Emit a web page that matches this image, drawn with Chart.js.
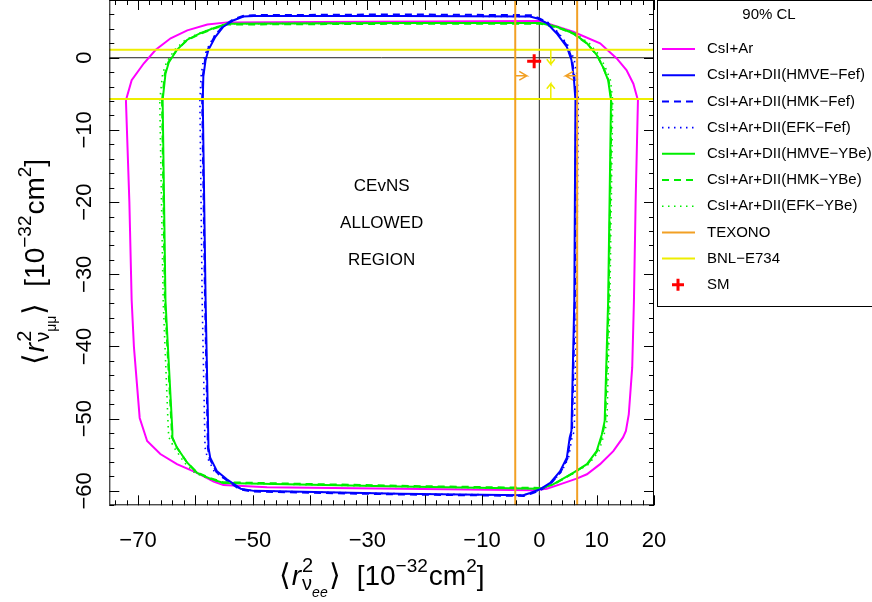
<!DOCTYPE html>
<html>
<head>
<meta charset="utf-8">
<script src="https://cdn.jsdelivr.net/npm/chart.js@4.4.0/dist/chart.umd.min.js"></script>
<style>
  body { margin: 0; background: #fff; }
</style>
</head>
<body>
<canvas id="myChart" width="872" height="602"></canvas>
<script>
// axis ranges and tick labels
var xMin = -75, xMax = 20, yMin = -62, yMax = 8;
var xTickLabels = [-70, -50, -30, -10, 0, 10, 20];
var yTickLabels = [0, -10, -20, -30, -40, -50, -60];

// CsI+Ar contour (x = <r2 nu_ee>, y = <r2 nu_mumu>)
var csiArX = [-72.1, -71.1, -69.0, -66.9, -64.3, -61.4, -57.9, -54.5, -30.0, 0.1, 2.4, 5.9, 10.6, 13.5, 15.2, 16.4, 17.2, 16.8, 16.5, 16.2, 15.6, 15.1, 14.6, 12.9, 10.6, 8.3, 6.5, 3.6, 1.3, -1.0, -24.3, -47.5, -55.1, -56.8, -59.7, -63.2, -66.1, -68.4, -69.7, -70.7, -71.1, -71.5, -72.1];
var csiArY = [-5.9, -3.1, -0.8, 1.1, 2.7, 3.8, 4.6, 4.9, 5.0, 5.1, 4.5, 3.6, 2.0, -0.1, -1.7, -3.6, -5.9, -19.8, -33.7, -42.9, -49.4, -51.7, -52.6, -54.5, -56.3, -57.7, -58.3, -59.1, -59.7, -59.9, -59.7, -59.5, -59.2, -58.7, -57.5, -56.3, -54.9, -53.1, -49.9, -40.1, -33.6, -20.0, -5.9];

// CsI+Ar+DII, Fef quenching
var fefHmveX = [-58.7, -58.6, -58.2, -57.7, -56.5, -55.1, -53.3, -51.6, -49.8, -24.3, -1.6, -0.2, 1.3, 3.0, 4.8, 5.6, 6.0, 6.3, 6.1, 5.6, 5.3, 4.8, 3.6, 1.9, 0.1, -1.6, -2.8, -24.3, -49.8, -52.1, -54.5, -56.2, -57.4, -57.7, -58.2, -58.7];
var fefHmveY = [-5.9, -2.6, -0.3, 1.1, 2.9, 4.3, 5.2, 5.7, 5.8, 5.8, 5.7, 5.4, 4.8, 3.4, 1.5, -0.3, -2.6, -5.9, -33.7, -51.7, -52.6, -55.4, -57.3, -58.9, -59.8, -60.3, -60.6, -60.4, -60.0, -59.7, -58.4, -57.3, -55.4, -54.0, -33.7, -5.9];
var fefHmkX = [-58.8, -58.7, -58.3, -57.8, -56.6, -55.2, -53.4, -51.7, -49.9, -24.3, -1.5, -0.1, 1.4, 3.1, 4.9, 5.7, 6.1, 6.4, 6.2, 5.7, 5.4, 4.9, 3.7, 2.0, 0.2, -1.5, -2.7, -24.3, -49.9, -52.2, -54.6, -56.3, -57.5, -57.8, -58.3, -58.8];
var fefHmkY = [-5.9, -2.6, -0.3, 1.2, 3.0, 4.4, 5.3, 5.8, 5.9, 6.0, 5.9, 5.5, 4.9, 3.5, 1.6, -0.2, -2.5, -5.9, -33.7, -51.7, -52.7, -55.5, -57.4, -59.0, -59.9, -60.4, -60.7, -60.5, -60.1, -59.8, -58.5, -57.4, -55.5, -54.1, -33.7, -5.9];
var fefEfkX = [-59.2, -59.0, -58.6, -58.0, -56.8, -55.3, -53.5, -51.7, -49.8, -24.3, -1.4, 0.1, 1.7, 3.4, 5.2, 6.1, 6.6, 6.8, 6.5, 6.1, 5.7, 5.1, 3.9, 2.1, 0.2, -1.5, -2.8, -24.3, -49.8, -52.2, -54.8, -56.7, -57.9, -58.3, -58.8, -59.2];
var fefEfkY = [-5.9, -2.6, -0.3, 1.1, 2.9, 4.3, 5.2, 5.7, 5.8, 5.8, 5.7, 5.4, 4.8, 3.4, 1.5, -0.3, -2.6, -5.9, -33.7, -51.7, -52.6, -55.4, -57.3, -58.9, -59.8, -60.3, -60.6, -60.4, -60.0, -59.7, -58.4, -57.3, -55.4, -54.0, -33.7, -5.9];

// CsI+Ar+DII, YBe quenching
var ybeHmveX = [-65.7, -65.2, -64.6, -63.2, -61.4, -59.1, -56.8, -54.5, -24.3, 0.1, 3.0, 5.9, 8.3, 10.0, 11.1, 12.0, 12.5, 12.0, 11.4, 10.9, 10.0, 8.3, 5.9, 2.4, 0.1, -24.3, -55.1, -57.4, -59.7, -61.4, -63.2, -64.0, -64.0, -65.2, -65.7];
var ybeHmveY = [-5.9, -2.2, -0.6, 1.1, 2.5, 3.4, 4.1, 4.7, 4.8, 4.8, 4.3, 3.4, 2.0, 0.4, -1.3, -3.1, -5.9, -33.7, -50.3, -52.2, -54.5, -56.3, -57.5, -59.1, -59.7, -59.4, -58.9, -58.3, -57.5, -56.1, -54.0, -52.6, -51.7, -33.7, -5.9];
var ybeHmkX = [-65.8, -65.3, -64.7, -63.3, -61.5, -59.2, -56.9, -54.6, -24.3, 0.2, 3.1, 6.0, 8.4, 10.1, 11.2, 12.1, 12.6, 12.1, 11.5, 11.0, 10.1, 8.4, 6.0, 2.5, 0.2, -24.3, -55.2, -57.5, -59.8, -61.5, -63.3, -64.1, -64.1, -65.3, -65.8];
var ybeHmkY = [-5.9, -2.2, -0.6, 1.0, 2.4, 3.3, 4.0, 4.6, 4.7, 4.7, 4.2, 3.3, 1.9, 0.3, -1.4, -3.2, -5.9, -33.7, -50.3, -52.2, -54.5, -56.3, -57.5, -59.1, -59.6, -59.3, -58.8, -58.2, -57.4, -56.0, -53.9, -52.5, -51.7, -33.7, -5.9];
var ybeEfkX = [-66.2, -65.7, -65.0, -63.6, -61.7, -59.3, -57.0, -54.6, -24.3, 0.3, 3.3, 6.2, 8.7, 10.4, 11.5, 12.4, 12.8, 12.3, 11.8, 11.3, 10.4, 8.6, 6.1, 2.5, 0.2, -24.3, -55.3, -57.7, -60.1, -61.9, -63.7, -64.6, -64.7, -65.6, -66.2];
var ybeEfkY = [-5.9, -2.2, -0.6, 1.1, 2.5, 3.4, 4.1, 4.7, 4.8, 4.8, 4.3, 3.4, 2.0, 0.4, -1.3, -3.1, -5.9, -33.7, -50.3, -52.2, -54.5, -56.3, -57.5, -59.1, -59.7, -59.4, -58.9, -58.3, -57.5, -56.1, -54.0, -52.6, -51.7, -33.7, -5.9];

// other experiments and SM
var texonoLimits = [-4.2, 6.6];
var bnlLimits = [1.1, -5.7];
var smPoint = [-0.9, -0.5];

// limit arrows: [base, tip, wing, NaN, tip, wing]
var texonoArrowLX = [-4.2, -2.2, -3.5, NaN, -2.2, -3.5];
var texonoArrowLY = [-2.5, -2.5, -1.9, NaN, -2.5, -3.1];
var texonoArrowRX = [6.6, 4.6, 5.9, NaN, 4.6, 5.9];
var texonoArrowRY = [-2.5, -2.5, -1.9, NaN, -2.5, -3.1];
var bnlArrowTX = [2.0, 2.0, 1.3, NaN, 2.0, 2.7];
var bnlArrowTY = [1.1, -0.9, -0.2, NaN, -0.9, -0.2];
var bnlArrowBX = [2.0, 2.0, 1.3, NaN, 2.0, 2.7];
var bnlArrowBY = [-5.7, -3.6, -4.3, NaN, -3.6, -4.3];

var regionText = ['CEvNS', 'ALLOWED', 'REGION'];
var regionTextX = -27.5;
var regionTextY = [-17.8, -23.0, -28.1];

var fam = "'Liberation Sans', Arial, Helvetica, sans-serif";
Chart.defaults.font.family = fam;

function pts(xs, ys) {
    return xs.map(function (x, i) { return { x: x, y: ys[i] }; });
}

var MAGENTA = '#ff00ff', BLUE = '#0000ff', GREEN = '#00ee00', ORANGE = '#f2a024', YELLOW = '#eeee00';

function contour(label, xs, ys, color, style, order) {
    var ds = {
        label: label, data: pts(xs, ys), borderColor: color, backgroundColor: color,
        borderWidth: 2, pointRadius: 0, showLine: true, tension: 0, fill: false,
        order: order, inLegend: true
    };
    if (style === 'dash') ds.borderDash = [7, 5];
    if (style === 'dot') { ds.borderDash = [1.5, 4.5]; ds.borderWidth = 1.6; }
    return ds;
}
function plain(label, xs, ys, color, width, order) {
    return {
        label: label, data: pts(xs, ys), borderColor: color, borderWidth: width,
        pointRadius: 0, showLine: true, tension: 0, fill: false, spanGaps: false, order: order
    };
}

var datasets = [
    contour('CsI+Ar', csiArX, csiArY, MAGENTA, 'solid', 8),
    contour('CsI+Ar+DII(HMVE\u2212Fef)', fefHmveX, fefHmveY, BLUE, 'solid', 5),
    contour('CsI+Ar+DII(HMK\u2212Fef)', fefHmkX, fefHmkY, BLUE, 'dash', 6),
    contour('CsI+Ar+DII(EFK\u2212Fef)', fefEfkX, fefEfkY, BLUE, 'dot', 7),
    contour('CsI+Ar+DII(HMVE\u2212YBe)', ybeHmveX, ybeHmveY, GREEN, 'solid', 5),
    contour('CsI+Ar+DII(HMK\u2212YBe)', ybeHmkX, ybeHmkY, GREEN, 'dash', 6),
    contour('CsI+Ar+DII(EFK\u2212YBe)', ybeEfkX, ybeEfkY, GREEN, 'dot', 7),
    Object.assign(plain('TEXONO', [texonoLimits[0], texonoLimits[0], NaN, texonoLimits[1], texonoLimits[1]], [yMin, yMax, NaN, yMin, yMax], ORANGE, 2, 3), { inLegend: true }),
    Object.assign(plain('BNL\u2212E734', [xMin, xMax, NaN, xMin, xMax], [bnlLimits[0], bnlLimits[0], NaN, bnlLimits[1], bnlLimits[1]], YELLOW, 2, 3), { inLegend: true }),
    {
        label: 'SM', data: pts([smPoint[0]], [smPoint[1]]), showLine: false,
        pointStyle: 'cross', pointRadius: 7, borderWidth: 3, borderColor: '#ff0000',
        order: 0, inLegend: true
    },
    plain('arrowL', texonoArrowLX, texonoArrowLY, ORANGE, 1.5, 1),
    plain('arrowR', texonoArrowRX, texonoArrowRY, ORANGE, 1.5, 1),
    plain('arrowT', bnlArrowTX, bnlArrowTY, YELLOW, 1.5, 1),
    plain('arrowB', bnlArrowBX, bnlArrowBY, YELLOW, 1.5, 1),
    plain('zeroX', [0, 0], [yMin, yMax], '#222222', 1, 10),
    plain('zeroY', [xMin, xMax], [0, 0], '#222222', 1, 10)
];

// rich text with sub/superscripts: m = 'same' stacks on previous, 'max' starts after everything
function drawRich(ctx, parts, cx, cy, angle) {
    var starts = [], prevStart = 0, prevEnd = 0, maxEnd = 0;
    parts.forEach(function (p) {
        ctx.font = (p.it ? 'italic ' : '') + p.s + 'px ' + fam;
        var w = ctx.measureText(p.t).width;
        var st = p.m === 'same' ? prevStart : (p.m === 'max' ? maxEnd : prevEnd);
        st += (p.gap || 0);
        starts.push(st);
        prevStart = st; prevEnd = st + w; maxEnd = Math.max(maxEnd, prevEnd);
    });
    ctx.save();
    ctx.translate(cx, cy);
    ctx.rotate(angle);
    ctx.fillStyle = '#000';
    ctx.textAlign = 'left';
    ctx.textBaseline = 'alphabetic';
    parts.forEach(function (p, i) {
        ctx.font = (p.it ? 'italic ' : '') + p.s + 'px ' + fam;
        ctx.fillText(p.t, starts[i] - maxEnd / 2, p.dy || 0);
    });
    ctx.restore();
}

function axisTitle(sub) {
    return [
        { t: '\u27e8', s: 30 },
        { t: 'r', s: 28, it: true, gap: 1 },
        { t: '2', s: 20, dy: -13, gap: 1 },
        { t: '\u03bd', s: 20, dy: 5, m: 'same' },
        { t: sub, s: 14, dy: 12, it: sub === 'ee' },
        { t: '\u27e9', s: 30, m: 'max', gap: 1 },
        { t: '[10', s: 28, gap: 16 },
        { t: '\u221232', s: 19, dy: -13 },
        { t: 'cm', s: 28, gap: 1 },
        { t: '2', s: 19, dy: -13 },
        { t: ']', s: 28 }
    ];
}

function fmt(v) { return v < 0 ? '\u2212' + Math.abs(v) : '' + v; }

var framePlugin = {
    id: 'framePlugin',
    afterDatasetsDraw: function (chart) {
        var ctx = chart.ctx, a = chart.chartArea;
        var sx = chart.scales.x, sy = chart.scales.y;
        ctx.save();
        // allowed region text
        ctx.fillStyle = '#000';
        ctx.font = '17px ' + fam;
        ctx.textAlign = 'center';
        ctx.textBaseline = 'middle';
        regionText.forEach(function (t, i) {
            ctx.fillText(t, sx.getPixelForValue(regionTextX), sy.getPixelForValue(regionTextY[i]));
        });
        // frame
        ctx.strokeStyle = '#000';
        ctx.lineWidth = 1;
        ctx.strokeRect(a.left + 0.5, a.top + 0.5, a.right - a.left - 1, a.bottom - a.top - 1);
        ctx.beginPath();
        var v, p, len;
        for (v = -74; v <= xMax; v += 2) {
            p = Math.round(sx.getPixelForValue(v)) + 0.5;
            len = (v % 10 === 0) ? 10 : 5;
            ctx.moveTo(p, a.bottom); ctx.lineTo(p, a.bottom - len);
            ctx.moveTo(p, a.top); ctx.lineTo(p, a.top + len);
        }
        for (v = yMin; v <= yMax; v += 2) {
            p = Math.round(sy.getPixelForValue(v)) + 0.5;
            len = (v % 10 === 0) ? 10 : 5;
            ctx.moveTo(a.left, p); ctx.lineTo(a.left + len, p);
            ctx.moveTo(a.right, p); ctx.lineTo(a.right - len, p);
        }
        ctx.stroke();
        ctx.restore();
    },
    afterDraw: function (chart) {
        var ctx = chart.ctx, a = chart.chartArea;
        var sy = chart.scales.y;
        ctx.save();
        // y tick labels, rotated like the original
        ctx.fillStyle = '#000';
        ctx.font = '22px ' + fam;
        ctx.textAlign = 'center';
        ctx.textBaseline = 'middle';
        yTickLabels.forEach(function (v) {
            ctx.save();
            ctx.translate(a.left - 24, sy.getPixelForValue(v));
            ctx.rotate(-Math.PI / 2);
            ctx.fillText(fmt(v), 0, 0);
            ctx.restore();
        });
        // axis titles
        drawRich(ctx, axisTitle('ee'), (a.left + a.right) / 2, 585, 0);
        drawRich(ctx, axisTitle('\u03bc\u03bc'), 44, 262, -Math.PI / 2);

        // legend box
        var lx = 657.5, ly = 0.5, lw = 240, lh = 306;
        ctx.strokeStyle = '#000';
        ctx.lineWidth = 1;
        ctx.strokeRect(lx, ly, lw, lh);
        ctx.font = '15px ' + fam;
        ctx.textAlign = 'center';
        ctx.fillText('90% CL', 769, 15);
        ctx.textAlign = 'left';
        var items = chart.data.datasets.filter(function (d) { return d.inLegend; });
        items.forEach(function (d, i) {
            var y = 49 + i * 26.2;
            if (d.label === 'SM') {
                ctx.strokeStyle = d.borderColor;
                ctx.lineWidth = 3;
                ctx.beginPath();
                ctx.moveTo(672, y); ctx.lineTo(684, y);
                ctx.moveTo(678, y - 6); ctx.lineTo(678, y + 6);
                ctx.stroke();
            } else {
                ctx.strokeStyle = d.borderColor;
                ctx.lineWidth = d.borderWidth;
                ctx.setLineDash(d.borderDash || []);
                ctx.beginPath();
                ctx.moveTo(662, y); ctx.lineTo(695, y);
                ctx.stroke();
                ctx.setLineDash([]);
            }
            ctx.fillStyle = '#000';
            ctx.fillText(d.label, 707, y);
        });
        ctx.restore();
    }
};

var ctx = document.getElementById('myChart').getContext('2d');
var myChart = new Chart(ctx, {
    type: 'scatter',
    data: { datasets: datasets },
    options: {
        responsive: false,
        animation: false,
        devicePixelRatio: 1,
        layout: { autoPadding: false, padding: { left: 0, right: 218, top: 0, bottom: 0 } },
        plugins: { legend: { display: false }, tooltip: { enabled: false } },
        scales: {
            x: {
                type: 'linear', min: xMin, max: xMax,
                grid: { display: false, drawTicks: false },
                border: { display: false },
                afterBuildTicks: function (scale) {
                    scale.ticks = xTickLabels.map(function (v) { return { value: v }; });
                },
                afterFit: function (scale) { scale.height = 96.7; },
                ticks: {
                    color: '#000', font: { size: 22 }, padding: 22, maxRotation: 0,
                    callback: function (v) { return fmt(v); }
                }
            },
            y: {
                type: 'linear', min: yMin, max: yMax,
                grid: { display: false, drawTicks: false },
                border: { display: false },
                afterFit: function (scale) { scale.width = 109.3; },
                ticks: { display: false }
            }
        }
    },
    plugins: [framePlugin]
});
</script>
</body>
</html>
